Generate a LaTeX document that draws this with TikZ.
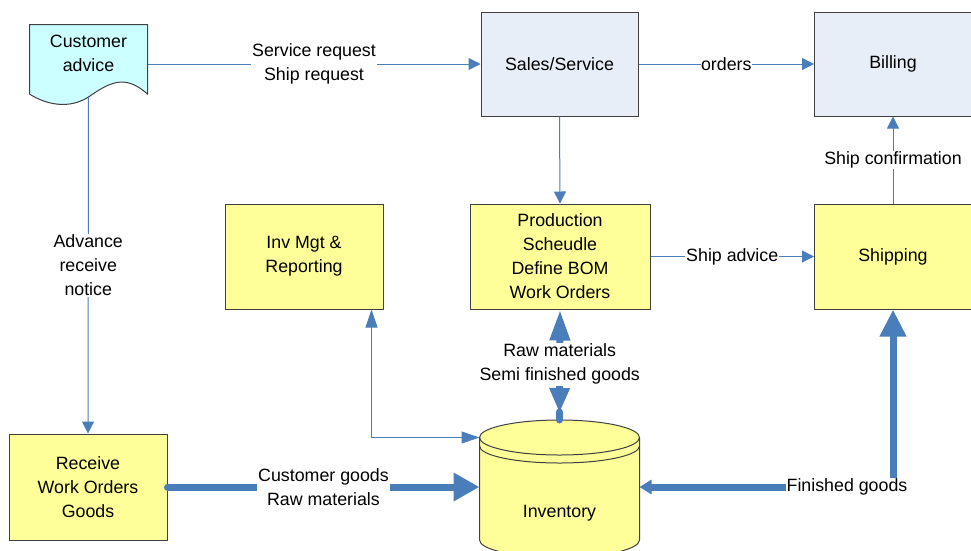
\documentclass[tikz,border=0pt]{standalone}
\usepackage{fontspec}
\setmainfont{Liberation Sans}
\usetikzlibrary{arrows.meta}
\definecolor{lineblue}{HTML}{4A7EBB}
\definecolor{boxyellow}{HTML}{FFFF99}
\definecolor{boxcyan}{HTML}{CCFFFF}
\definecolor{boxlav}{HTML}{E8EEF7}
\definecolor{boxedge}{HTML}{404040}
\begin{document}
\begin{tikzpicture}[x=1pt,y=-1pt,
  txt/.style={font=\fontsize{17.8}{24}\selectfont, align=center, text=black},
  box/.style={txt, draw=boxedge, line width=1pt, inner sep=0pt},
  ybox/.style={box, fill=boxyellow},
  lbox/.style={box, fill=boxlav},
  lbl/.style={txt, fill=white, inner sep=1pt},
  thinarrow/.style={draw=lineblue, line width=1pt, -{Triangle[length=12pt,width=12pt]}},
  thickline/.style={draw=lineblue, line width=7pt},
  shapeline/.style={draw=boxedge, line width=1pt},
]
\useasboundingbox (0,0) rectangle (971,550);
\fill[white] (0,0) rectangle (971,550);

% boxes
\node[lbox, minimum width=157pt, minimum height=104pt] (sales) at (559.5,64) {Sales/Service};
\node[lbox, minimum width=157pt, minimum height=104pt] (bill) at (893,64) {Billing};
\node[ybox, minimum width=180pt, minimum height=105pt] (prod) at (560,256.5) {Production\\Scheudle\\Define BOM\\Work Orders};
\node[ybox, minimum width=158pt, minimum height=105pt] (invm) at (304,256.5) {Inv Mgt \&\\Reporting};
\node[ybox, minimum width=157pt, minimum height=105pt] (ship) at (893,256.5) {Shipping};
\node[ybox, minimum width=158pt, minimum height=106pt] (recv) at (88,487) {Receive\\Work Orders\\Goods};

% document shape
\filldraw[fill=boxcyan, shapeline] (29.5,24.5) -- (147.5,24.5) -- (147.5,94)
  .. controls (125,74) and (110,82) .. (88.5,97)
  .. controls (68,110) and (45,104) .. (29.5,94) -- cycle;
\node[txt] (cust) at (88.5,53.5) {Customer\\advice};
\coordinate (custE) at (147.5,64);
\coordinate (custS) at (88.5,97);

% cylinder
\filldraw[fill=boxyellow, shapeline] (479.5,437.5) -- (479.5,540)
  arc[start angle=180,end angle=360,x radius=80pt,y radius=17.5pt] -- (639.5,437.5)
  arc[start angle=0,end angle=180,x radius=80pt,y radius=17.5pt] -- cycle;
\draw[shapeline] (479.5,437.5) arc[start angle=180,end angle=360,x radius=80pt,y radius=17.5pt];
\draw[shapeline] (479.5,446) arc[start angle=180,end angle=360,x radius=80pt,y radius=17pt];
\node[txt] (inv) at (559.5,513) {Inventory};
\coordinate (invL) at (479.5,487);
\coordinate (invR) at (639.5,487);
\coordinate (invT) at (559.5,420);
\coordinate (invTL) at (479.5,437.5);

% thin connectors
\draw[thinarrow] (custE) -- node[lbl]{Service request\\Ship request} (sales.west);
\draw[thinarrow] (sales.east) -- node[lbl, inner sep=0.5pt]{orders} (bill.west);
\draw[thinarrow] (sales.south) -- (prod.north);
\draw[thinarrow] (prod.east) -- node[lbl]{Ship advice} (ship.west);
\draw[thinarrow] (ship.north) -- node[lbl]{Ship confirmation} (bill.south);
\draw[thinarrow] (custS) -- node[lbl]{Advance\\receive\\notice} (recv.north);
\draw[draw=lineblue, line width=1pt, {Triangle[length=18pt,width=12pt]}-{Triangle[length=18pt,width=12pt]}]
  (invTL) -| ([xshift=-12pt]invm.south east);

% thick connectors
\draw[thickline, line cap=round] (invT) -- ([yshift=8pt]invT);
\draw[thickline, {Triangle[length=25pt,width=19pt]}-{Triangle[length=31pt,width=19pt]}]
  ([yshift=7pt]invT) -- node[lbl, pos=0.47]{Raw materials\\Semi finished goods} (prod.south);
\draw[thickline, line cap=round, -{Triangle[length=26pt,width=27pt]}]
  (recv.east) -- node[lbl]{Customer goods\\Raw materials} (invL);
\coordinate (fgc) at (ship.south |- invR);
\draw[thickline, {Triangle[length=12pt,width=14pt]}-{Triangle[length=27pt,width=25pt]}]
  (invR) -- (fgc) -- (ship.south);
\node[lbl] (fg) at (847,487) {Finished goods};
\end{tikzpicture}
\end{document}
